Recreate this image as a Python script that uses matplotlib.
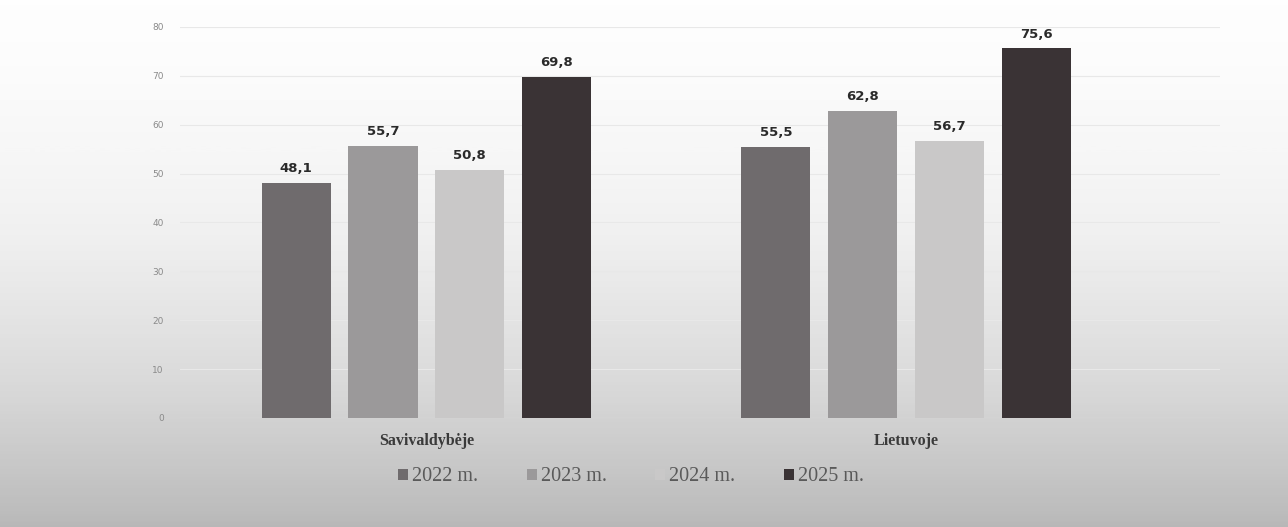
import matplotlib.pyplot as plt
import numpy as np

categories = ["Savivaldybėje", "Lietuvoje"]
years = ["2022 m.", "2023 m.", "2024 m.", "2025 m."]
values = {
    "2022 m.": [48.1, 55.5],
    "2023 m.": [55.7, 62.8],
    "2024 m.": [50.8, 56.7],
    "2025 m.": [69.8, 75.6],
}
colors = ["#6f6b6d", "#9b999a", "#c9c8c8", "#3a3335"]

fig = plt.figure(figsize=(12.88, 5.27), dpi=100)

# paper-like background, white at the top and grey towards the bottom
bg = fig.add_axes([0, 0, 1, 1], zorder=-1)
grad = np.linspace(0, 1, 200).reshape(-1, 1) ** 1.5
bg.imshow(grad, aspect="auto", cmap="Greys", vmin=-0.03, vmax=2.6,
          extent=[0, 1, 0, 1], origin="upper")
bg.axis("off")

ax = fig.add_axes([0.14, 0.207, 0.807, 0.742])
ax.set_facecolor("none")

x = np.arange(len(categories))
pitch = 0.181
width = 0.144
for i, yr in enumerate(years):
    pos = x + (i - 1.5) * pitch
    bars = ax.bar(pos, values[yr], width, color=colors[i], label=yr, zorder=3)
    for b, v in zip(bars, values[yr]):
        ax.text(b.get_x() + b.get_width() / 2, v + 1.6, f"{v:.1f}".replace(".", ","),
                ha="center", va="bottom", fontsize=9.5, fontweight="bold",
                color="#2a2a2a", family="DejaVu Sans")

ax.set_ylim(0, 80)
ax.set_xlim(-0.513, 1.654)
ax.set_yticks(np.arange(0, 81, 10))
ax.tick_params(axis="y", length=0, labelsize=6.5, labelcolor="#8a8a8a", pad=12)
ax.set_xticks(x)
ax.set_xticklabels(categories, family="Liberation Serif", fontweight="bold",
                   fontsize=11.5, color="#3a3a3a")
ax.tick_params(axis="x", length=0, pad=11)
ax.grid(axis="y", color="#e8e8e8", linewidth=0.8, zorder=0)
for s in ax.spines.values():
    s.set_visible(False)

fig.legend(loc="center", bbox_to_anchor=(0.49, 0.095), ncol=4, frameon=False,
           prop={"family": "Liberation Serif", "size": 14.5}, handlelength=0.5,
           handleheight=0.5, handletextpad=0.2, columnspacing=2.4,
           labelcolor="#5a5a5a")

fig.savefig("out.png", dpi=100)
